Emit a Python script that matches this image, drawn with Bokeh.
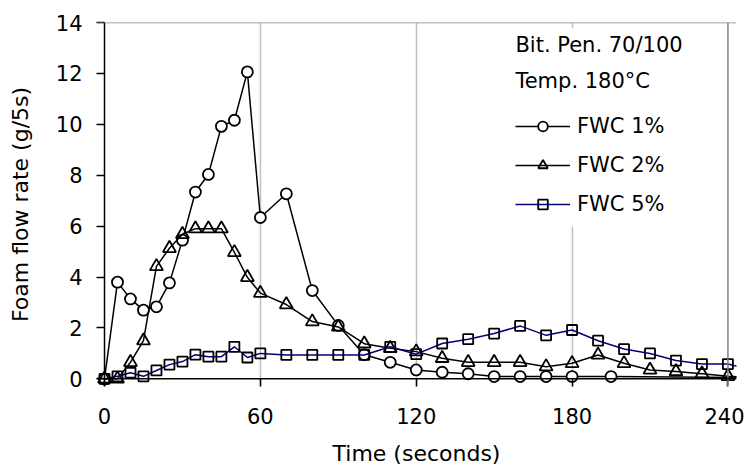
from bokeh.plotting import figure
from bokeh.models import (Range1d, Span, BoxAnnotation, Label, Legend, LegendItem,
                          FixedTicker)
from bokeh.embed import file_html
from bokeh.resources import INLINE

# ---- data ----
t_fwc1 = [0, 5, 10, 15, 20, 25, 30, 35, 40, 45, 50, 55, 60, 70, 80, 90, 100, 110,
          120, 130, 140, 150, 160, 170, 180, 195, 245]
v_fwc1 = [0, 3.8, 3.14, 2.7, 2.83, 3.77, 5.45, 7.34, 8.03, 9.92, 10.16, 12.06, 6.34,
          7.27, 3.47, 2.1, 0.95, 0.65, 0.35, 0.26, 0.2, 0.09, 0.09, 0.09, 0.09, 0.09, 0.05]

t_fwc2 = [0, 5, 10, 15, 20, 25, 30, 35, 40, 45, 50, 55, 60, 70, 80, 90, 100, 110,
          120, 130, 140, 150, 160, 170, 180, 190, 200, 210, 220, 230, 240, 245]
v_fwc2 = [0, 0, 0.65, 1.5, 4.42, 5.13, 5.68, 5.9, 5.9, 5.9, 4.97, 3.99, 3.37, 2.92,
          2.25, 2.04, 1.38, 1.2, 1.07, 0.81, 0.65, 0.65, 0.65, 0.48, 0.61, 0.94, 0.61,
          0.35, 0.29, 0.2, 0.1, 0.08]

t_fwc5 = [0, 5, 10, 15, 20, 25, 30, 35, 40, 45, 50, 55, 60, 70, 80, 90, 100, 110,
          120, 130, 140, 150, 160, 170, 180, 190, 200, 210, 220, 230, 240, 245]
v_fwc5 = [0, 0.1, 0.24, 0.1, 0.33, 0.56, 0.68, 0.95, 0.87, 0.87, 1.26, 0.84, 1.0, 0.94,
          0.94, 0.94, 0.94, 1.26, 0.97, 1.39, 1.56, 1.78, 2.08, 1.71, 1.92, 1.5, 1.17,
          1.0, 0.72, 0.58, 0.58, 0.46]

x_ticks = [0, 60, 120, 180, 240]
y_ticks = [0, 2, 4, 6, 8, 10, 12, 14]
grid_x = [60, 120, 180]

FONT = "DejaVu Sans"

p = figure(width=744, height=468, output_backend="svg", toolbar_location=None,
           x_range=Range1d(-3.08, 243.3), y_range=Range1d(-0.3, 14),
           min_border_left=96, min_border_right=8, min_border_top=22,
           min_border_bottom=79, background_fill_color="white",
           border_fill_color="white")
p.outline_line_color = None

# axes
for ax in (p.xaxis[0], p.yaxis[0]):
    ax.axis_line_color = None
    ax.major_tick_out = 0
    ax.major_tick_in = 8
    ax.major_tick_line_color = "black"
    ax.major_tick_line_width = 1.5
    ax.minor_tick_line_color = None
    ax.major_label_text_font = FONT
    ax.major_label_text_font_size = "21px"
    ax.major_label_text_color = "black"
    ax.axis_label_text_font = FONT
    ax.axis_label_text_font_size = "22px"
    ax.axis_label_text_font_style = "normal"
    ax.axis_label_text_color = "black"

p.xaxis.ticker = FixedTicker(ticks=x_ticks)
p.yaxis.ticker = FixedTicker(ticks=y_ticks)
p.xaxis.axis_label = "Time (seconds)"
p.yaxis.axis_label = "Foam flow rate (g/5s)"
p.xaxis.major_label_standoff = 21
p.yaxis.major_label_standoff = 14
p.xaxis.axis_label_standoff = 14
p.yaxis.axis_label_standoff = 20

p.ygrid.grid_line_color = None
p.xgrid.ticker = FixedTicker(ticks=grid_x)
p.xgrid.grid_line_color = "#c0c0c0"
p.xgrid.grid_line_width = 1.5

# frame lines
p.add_layout(Span(location=240, dimension="height", line_color="#808080", line_width=1.5))
p.add_layout(Span(location=14, dimension="width", line_color="#808080", line_width=1.5))
p.add_layout(Span(location=0, dimension="width", line_color="black", line_width=1.5))
p.add_layout(Span(location=0, dimension="height", line_color="black", line_width=1.5))

# series
l1 = p.line(t_fwc1, v_fwc1, line_color="black", line_width=1.5)
s1 = p.scatter(t_fwc1[:-1], v_fwc1[:-1], marker="circle", size=11,
               fill_color="white", line_color="black", line_width=1.8)
l2 = p.line(t_fwc2, v_fwc2, line_color="black", line_width=1.5)
s2 = p.scatter(t_fwc2[:-1], v_fwc2[:-1], marker="triangle", size=13,
               fill_color=None, line_color="black", line_width=1.8)
l3 = p.line(t_fwc5, v_fwc5, line_color="#000080", line_width=1.5)
s3 = p.scatter(t_fwc5[:-1], v_fwc5[:-1], marker="square", size=10,
               fill_color=None, line_color="black", line_width=1.8)

# legend area
p.add_layout(BoxAnnotation(left=154, right=237, top=13.78, bottom=5.99,
                           fill_color="white", fill_alpha=1.0, line_color=None))
p.add_layout(Label(x=158.2, y=12.63, text="Bit. Pen. 70/100", text_font=FONT,
                   text_font_size="21px", text_color="black"))
p.add_layout(Label(x=158.2, y=11.25, text="Temp. 180°C", text_font=FONT,
                   text_font_size="21px", text_color="black"))

legend = Legend(items=[LegendItem(label="FWC 1%", renderers=[l1, s1]),
                       LegendItem(label="FWC 2%", renderers=[l2, s2]),
                       LegendItem(label="FWC 5%", renderers=[l3, s3])],
                location=(419, 170), margin=0, padding=0, spacing=15,
                glyph_width=55, glyph_height=24, label_height=24,
                label_standoff=7, border_line_color=None,
                background_fill_alpha=0, label_text_font=FONT,
                label_text_font_size="21px", label_text_color="black")
p.add_layout(legend)

open("out.html", "w").write(file_html(p, INLINE))
